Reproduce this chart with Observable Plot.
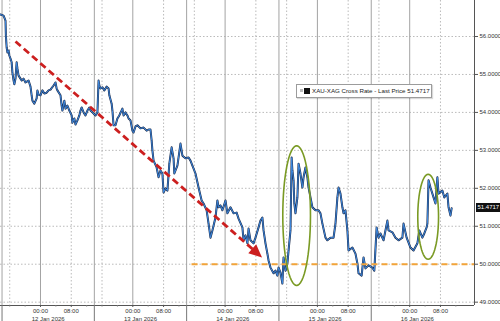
<!DOCTYPE html>
<html><head><meta charset="utf-8">
<script src="https://cdn.jsdelivr.net/npm/d3@7"></script>
<script src="https://cdn.jsdelivr.net/npm/@observablehq/plot@0.6"></script>
<style>
html,body{margin:0;padding:0;background:#fff;}
#wrap{position:relative;width:500px;height:321px;overflow:hidden;background:#fff;}
#legend{position:absolute;left:296px;top:84px;width:134px;height:12px;border:1px solid #9c9c9c;background:#fff;box-shadow:1px 1px 1px rgba(0,0,0,0.15);font:6.2px 'Liberation Sans',Arial,sans-serif;color:#222;white-space:nowrap;}
#legend .g{position:absolute;left:3px;top:4px;width:3px;height:3px;background:#bbb;}
#legend .b{position:absolute;left:7px;top:2.5px;width:6px;height:6px;background:#111;}
#legend .t{position:absolute;left:15px;top:2px;line-height:8px;}
#last{position:absolute;left:476px;width:26px;height:9px;background:#111;color:#fff;font:6px 'Liberation Sans',Arial,sans-serif;line-height:9px;padding-left:1.5px;box-sizing:border-box;}
</style></head>
<body><div id="wrap"></div>
<script>
// XAU-XAG cross rate: [hours since 12 Jan 2026 00:00, rate]
const xauxag = [
[-10.4,56.58],[-9.6,56.55],[-9.1,56.42],[-9.0,56.03],[-8.8,55.71],[-8.6,55.58],[-8.3,55.63],[-8.1,55.50],[-7.8,55.42],[-7.5,55.32],
[-7.3,55.05],[-7.0,54.84],[-6.8,54.74],[-6.5,54.89],[-6.2,55.32],[-6.0,55.16],[-5.7,54.97],[-5.2,54.89],[-4.9,54.84],[-4.4,54.89],
[-3.9,54.79],[-3.1,54.84],[-2.6,54.68],[-2.3,54.45],[-2.1,54.31],[-1.6,54.23],[-1.0,54.37],[-0.8,54.58],[-0.5,54.47],[0,54.45],
[0.5,54.58],[1.0,54.50],[1.6,54.52],[2.1,54.58],[2.6,54.60],[3.4,54.71],[3.9,54.79],[4.2,54.63],[4.4,54.58],[5.2,54.45],
[5.5,54.18],[5.7,54.05],[6.2,54.31],[6.5,54.10],[7.0,54.18],[7.5,54.05],[8.1,53.92],[8.3,53.73],[8.8,53.84],[9.1,53.68],
[9.6,53.79],[10.1,53.92],[10.4,54.05],[10.7,54.13],[11.2,54.00],[11.7,53.92],[12.2,54.05],[12.7,54.13],[13.0,54.05],[13.5,54.00],
[14.3,53.92],[14.8,54.00],[15.1,54.84],[15.3,54.71],[15.6,54.63],[16.1,54.66],[16.6,54.58],[17.2,54.68],[17.7,54.63],[17.9,54.45],
[18.5,54.23],[18.7,54.05],[19.0,53.66],[19.5,53.66],[20.0,53.84],[20.5,53.92],[21.3,54.10],[21.6,53.92],[22.1,54.00],[22.6,53.92],
[22.9,53.84],[23.4,53.79],[23.9,53.52],[24.2,53.47],[24.7,53.63],[25.2,53.66],[26.0,53.58],[26.8,53.60],[27.6,53.52],[28.1,53.55],
[28.6,53.55],[28.9,53.26],[29.1,53.00],[29.4,52.73],[30.2,52.55],[30.7,52.29],[31.2,52.47],[31.7,52.39],[32.0,51.89],[32.5,52.00],
[33.0,51.94],[33.5,52.65],[34.1,53.08],[34.6,52.79],[34.8,52.39],[35.6,52.60],[36.4,53.18],[36.9,52.86],[37.7,52.79],[38.5,52.81],
[39.0,52.73],[39.5,52.60],[40.3,52.39],[41.1,52.02],[41.9,51.68],[42.4,51.60],[43.2,51.42],[43.7,51.07],[44.2,50.70],[44.7,50.89],
[45.5,51.23],[46.0,51.68],[46.3,51.50],[46.8,51.55],[47.3,51.42],[48.1,51.68],[48.6,51.34],[49.4,51.50],[50.2,51.34],[51.0,51.36],
[51.5,51.20],[52.5,50.97],[52.8,50.63],[53.3,50.76],[53.8,50.55],[54.1,50.94],[54.6,50.63],[55.4,50.55],[55.9,50.70],[56.7,50.97],
[57.2,51.15],[57.7,51.23],[58.0,50.89],[58.5,50.55],[59.0,50.28],[59.3,50.10],[59.8,49.91],[60.6,49.76],[61.1,49.83],[61.6,49.70],
[61.9,49.91],[62.4,49.78],[62.9,49.49],[63.2,50.18],[63.7,49.83],[64.2,50.02],[64.5,50.36],[65.0,50.89],[65.3,52.81],[65.5,52.47],
[65.8,52.21],[66.0,51.60],[66.3,51.34],[66.8,51.76],[67.1,52.65],[67.6,52.39],[68.1,52.02],[68.4,52.29],[68.9,52.55],[69.4,52.29],
[69.7,52.02],[70.2,51.76],[70.7,51.50],[71.5,51.42],[72.3,51.42],[72.8,51.34],[73.3,51.07],[74.1,50.70],[74.6,50.63],[75.4,50.70],
[76.2,50.70],[76.7,51.07],[77.2,51.76],[77.5,52.02],[78.0,51.86],[78.5,51.50],[78.8,51.34],[79.3,51.42],[79.8,50.89],[80.1,50.36],
[81.1,50.44],[81.9,50.28],[82.4,50.02],[82.7,49.76],[83.5,49.70],[84.0,50.18],[84.5,49.89],[85.3,49.97],[86.3,49.91],[86.8,49.83],
[87.4,50.97],[87.9,50.70],[88.4,50.81],[89.2,50.63],[90.2,51.15],[90.5,50.89],[91.5,50.84],[92.3,50.70],[93.1,50.63],[94.1,50.70],
[94.4,51.07],[95.2,50.70],[96.2,50.44],[97.0,50.36],[98.0,50.55],[98.5,50.89],[99.3,50.70],[99.8,50.81],[100.4,50.97],[100.6,51.07],
[100.9,52.21],[101.4,52.02],[102.2,51.76],[102.7,51.60],[103.2,52.29],[103.5,51.86],[104.5,51.94],[105.0,51.76],[105.8,51.86],[106.1,51.50],
[106.6,51.28],[106.9,51.4717]
];
const lastPrice = 51.4717;
const seriesName = "XAU-XAG Cross Rate - Last Price";

// axis ticks (hours since 12 Jan 2026 00:00)
const yTicks = [49, 50, 51, 52, 53, 54, 55, 56];
const midnightHours = [0, 24, 48, 72, 96];
const sessionBreakHours = [-10, 14, 38, 62, 86];
const dottedHours = [-8, 8, 16, 32, 40, 56, 64, 80, 88, 104];
const minorTickHours = [-8, -4, 4, 12, 16, 20, 28, 36, 40, 44, 52, 60, 64, 68, 76, 84, 88, 92, 100, 108];
const timeLabelHours = [0, 8, 24, 32, 48, 56, 72, 80, 96, 104];
const dateLabelHours = [2, 26, 50, 74, 98];
const viewHours = [-10.4, 112.85];
const viewRates = [48.912, 56.949];

// annotations
const trendArrow = {h1: -6.5, v1: 55.87, h2: 57.6, v2: 50.18};
const supportLine = {level: 50.0, fromHour: 39.4};
const ellipses = [{h: 66.6, v: 51.28, rh: 3.6, rv: 1.84}, {h: 100.8, v: 51.25, rh: 2.7, rv: 1.12}];

const T0 = Date.UTC(2026, 0, 12);
const at = h => new Date(T0 + h * 36e5);
const data = xauxag.map(([h, v]) => ({t: at(h), v}));
const xDomain = viewHours.map(at);

const W = 500, H = 321, mL = 0, mR = 26, mT = 0, mB = 16;
// mirror scales to get arrow head direction in screen space
const sx = d3.scaleUtc(xDomain, [mL, W - mR]);
const sy = d3.scaleLinear(viewRates, [H - mB, mT]);
const A = trendArrow;
const pdx = sx(at(A.h2)) - sx(at(A.h1)), pdy = sy(A.v2) - sy(A.v1);
const plen = Math.hypot(pdx, pdy);
const angle = Math.atan2(pdx, -pdy) * 180 / Math.PI;
const headLen = 13;
const f = 1 - (headLen - 2) / plen;
const bodyEnd = {h: A.h1 + f * (A.h2 - A.h1), v: A.v1 + f * (A.v2 - A.v1)};

const ellipsePts = ellipses.map((e, k) => d3.range(0, 64).map(i => {
  const a = i / 64 * 2 * Math.PI;
  return {k, t: at(e.h + e.rh * Math.cos(a)), v: e.v + e.rv * Math.sin(a)};
})).flat();

const headShape = {draw(ctx, l, r) { ctx.moveTo(0, -l); ctx.lineTo(-r, 0); ctx.lineTo(r, 0); ctx.closePath(); }};

const chart = Plot.plot({
  width: W, height: H,
  marginLeft: mL, marginRight: mR, marginTop: mT, marginBottom: mB,
  style: {fontFamily: "'Liberation Sans', Arial, sans-serif", fontSize: "6px", color: "#333", background: "#fff", overflow: "visible"},
  x: {type: "utc", domain: xDomain, label: null},
  y: {domain: viewRates, label: null},
  marks: [
    Plot.ruleY(yTicks, {stroke: "#a9a9a9", strokeWidth: 0.8, strokeDasharray: "1.5,2"}),
    Plot.ruleX(dottedHours.map(at), {stroke: "#a9a9a9", strokeWidth: 0.8, strokeDasharray: "1.5,2"}),
    Plot.ruleX(midnightHours.concat(sessionBreakHours).map(at), {stroke: "#a3a3a3", strokeWidth: 1}),
    Plot.line(data, {x: "t", y: "v", stroke: "#17284a", strokeWidth: 2.0, strokeLinejoin: "round"}),
    Plot.line(data, {x: "t", y: "v", stroke: "#3f8ae0", strokeWidth: 1.0, strokeLinejoin: "round"}),
    Plot.ruleY([supportLine.level], {x1: at(supportLine.fromHour), x2: xDomain[1], stroke: "#f2a43a", strokeWidth: 2, strokeDasharray: "6,4"}),
    Plot.link([A], {x1: at(A.h1), y1: A.v1, x2: at(bodyEnd.h), y2: bodyEnd.v, stroke: "#cc1f1f", strokeWidth: 2.8, strokeDasharray: "7,4"}),
    Plot.vector([A], {x: at(A.h2), y: A.v2, length: headLen, rotate: angle, anchor: "end", shape: headShape, r: 6, fill: "#cc1f1f", stroke: "none"}),
    Plot.line(ellipsePts, {x: "t", y: "v", z: "k", curve: "linear-closed", stroke: "#7a9a24", strokeWidth: 1.6}),
    Plot.ruleX([xDomain[1]], {stroke: "#555", strokeWidth: 1}),
    Plot.ruleY([viewRates[0]], {stroke: "#555", strokeWidth: 1}),
    Plot.axisY(yTicks, {anchor: "right", tickSize: 3, tickPadding: 2, tickFormat: d => d.toFixed(4), label: null, stroke: "#555"}),
    Plot.axisX(minorTickHours.map(at), {anchor: "bottom", tickSize: 1.5, tickFormat: () => "", label: null, stroke: "#777"}),
    Plot.axisX(timeLabelHours.map(at), {anchor: "bottom", tickSize: 2, tickPadding: 1, tickFormat: d3.utcFormat("%H:%M"), label: null, stroke: "#555"}),
    Plot.axisX(sessionBreakHours.map(at), {anchor: "bottom", tickSize: 16, tickFormat: () => "", label: null, stroke: "#777"}),
    Plot.axisX(dateLabelHours.map(at), {anchor: "bottom", tickSize: 0, tickPadding: 11, tickFormat: d3.utcFormat("%-d %b %Y"), label: null})
  ]
});
const wrap = document.getElementById("wrap");
wrap.appendChild(chart);

const legend = document.createElement("div");
legend.id = "legend";
legend.innerHTML = `<div class="g"></div><div class="b"></div><div class="t">${seriesName} ${lastPrice.toFixed(4)}</div>`;
wrap.appendChild(legend);

const last = document.createElement("div");
last.id = "last";
last.textContent = lastPrice.toFixed(4);
last.style.top = (chart.scale("y").apply(lastPrice) - 4.5) + "px";
wrap.appendChild(last);
</script>
</body></html>
